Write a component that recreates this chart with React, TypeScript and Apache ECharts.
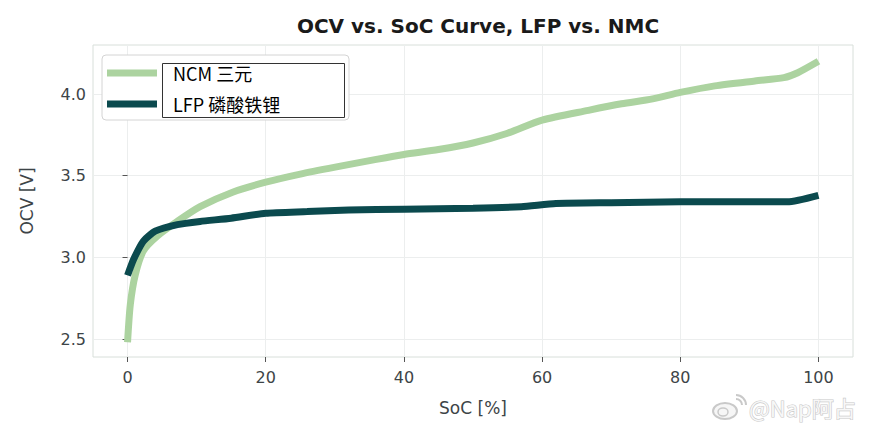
import React, { useEffect, useRef } from "react";
import * as echarts from "echarts";

const xTicks = [0, 20, 40, 60, 80, 100];
const yTicks = [2.5, 3.0, 3.5, 4.0];

const ncmSoc = [0, 0.4, 1.1, 2.3, 4.3, 7.2, 10.5, 15.3, 20, 25, 31, 36, 40, 45, 50, 55, 60, 66.7, 71.5, 76, 80, 85, 90.8, 95, 97, 100];
const ncmOcv = [2.48, 2.71, 2.89, 3.04, 3.13, 3.22, 3.31, 3.40, 3.46, 3.51, 3.56, 3.60, 3.63, 3.66, 3.70, 3.76, 3.84, 3.90, 3.94, 3.97, 4.01, 4.05, 4.08, 4.10, 4.13, 4.20];

const lfpSoc = [0, 0.9, 2.3, 4, 7.2, 10.5, 15, 20, 26, 32, 40, 50, 57, 62, 70, 80, 90, 95.5, 100];
const lfpOcv = [2.89, 2.99, 3.10, 3.16, 3.20, 3.22, 3.24, 3.27, 3.28, 3.29, 3.295, 3.30, 3.31, 3.33, 3.335, 3.34, 3.34, 3.34, 3.38];

const seriesNames = ["NCM 三元", "LFP 磷酸铁锂"];
const titleText = "OCV vs. SoC Curve, LFP vs. NMC";
const xName = "SoC [%]";
const yName = "OCV [V]";
const watermark = "@Nap阿占";

export default function App() {
  const ref = useRef<HTMLDivElement>(null);
  useEffect(() => {
    document.body.style.margin = "0";
    const chart = echarts.init(ref.current!, null, { renderer: "svg" });
    const font = "'DejaVu Sans', sans-serif";
    const textColor = "#3d4447";
    const wm = "#c9c9c9";
    chart.setOption({
      animation: false,
      backgroundColor: "#ffffff",
      title: {
        text: titleText,
        left: 473,
        textAlign: "center",
        top: 11,
        textStyle: { fontFamily: font, fontWeight: "bold", fontSize: 20, color: "#1a1a1a" },
      },
      grid: {
        left: 93,
        right: 18,
        top: 45,
        bottom: 78,
        show: true,
        borderColor: "#d8dfda",
        borderWidth: 1,
      },
      legend: {
        orient: "vertical",
        left: 102,
        top: 55,
        padding: [6, 6, 4, 5],
        itemGap: 7,
        itemWidth: 50,
        itemHeight: 7,
        icon: "rect",
        backgroundColor: "#ffffff",
        borderColor: "#d4d4d4",
        borderWidth: 1,
        borderRadius: 4,
        data: seriesNames,
        textStyle: {
          fontFamily: "'Noto Sans CJK SC', sans-serif",
          fontSize: 18,
          color: "#000000",
          lineHeight: 20,
          padding: [4, 0, 0, 11],
          width: 170,
        },
      },
      xAxis: {
        type: "value",
        min: -5,
        max: 105,
        name: xName,
        nameLocation: "middle",
        nameGap: 42,
        nameTextStyle: { fontFamily: font, fontSize: 17, color: textColor },
        axisLine: { show: false },
        axisTick: { show: true, length: 5, lineStyle: { color: "#555" }, customValues: xTicks },
        axisLabel: { fontFamily: font, fontSize: 16, color: textColor, margin: 12, customValues: xTicks },
        splitLine: { show: true, lineStyle: { color: "#eceeee", width: 1 } },
      },
      yAxis: {
        type: "value",
        min: 2.39,
        max: 4.3,
        name: yName,
        nameLocation: "middle",
        nameGap: 58,
        nameTextStyle: { fontFamily: font, fontSize: 17, color: textColor },
        axisLine: { show: false },
        axisTick: { show: true, length: 5, lineStyle: { color: "#555" }, customValues: yTicks },
        axisLabel: {
          fontFamily: font,
          fontSize: 16,
          color: textColor,
          margin: 7,
          customValues: yTicks,
          formatter: (v: number) => v.toFixed(1),
        },
        splitLine: { show: true, lineStyle: { color: "#eceeee", width: 1 } },
      },
      series: [
        {
          name: seriesNames[0],
          type: "line",
          data: ncmSoc.map((s, i) => [s, ncmOcv[i]]),
          showSymbol: false,
          smooth: 0.25,
          lineStyle: { color: "#acd3a0", width: 7, cap: "butt" },
          itemStyle: { color: "#acd3a0" },
        },
        {
          name: seriesNames[1],
          type: "line",
          data: lfpSoc.map((s, i) => [s, lfpOcv[i]]),
          showSymbol: false,
          smooth: 0.2,
          lineStyle: { color: "#0b4a4e", width: 7, cap: "butt" },
          itemStyle: { color: "#0b4a4e" },
        },
      ],
      graphic: [
        {
          type: "rect",
          shape: { x: 162.5, y: 63.5, width: 182, height: 54 },
          style: { fill: "none", stroke: "#333", lineWidth: 1 },
          z: 100,
        },
        {
          type: "ellipse",
          shape: { cx: 725, cy: 411, rx: 12, ry: 8 },
          style: { fill: "#f6f6f6", stroke: wm, lineWidth: 2 },
          z: 100,
        },
        {
          type: "ellipse",
          shape: { cx: 723, cy: 412, rx: 5, ry: 4 },
          style: { fill: "none", stroke: wm, lineWidth: 1.5 },
          z: 100,
        },
        {
          type: "arc",
          shape: { cx: 736, cy: 405, r: 6, startAngle: -Math.PI / 2, endAngle: 0 },
          style: { stroke: wm, lineWidth: 2, fill: "none" },
          z: 100,
        },
        {
          type: "arc",
          shape: { cx: 736, cy: 405, r: 10, startAngle: -Math.PI / 2, endAngle: 0 },
          style: { stroke: wm, lineWidth: 2, fill: "none" },
          z: 100,
        },
        {
          type: "text",
          x: 749,
          y: 396,
          style: {
            text: watermark,
            fontSize: 22,
            fontFamily: "'Noto Sans CJK SC', sans-serif",
            fill: "#f7f7f7",
            stroke: wm,
            lineWidth: 1.2,
          },
          z: 100,
        },
      ],
    });
    return () => chart.dispose();
  }, []);
  return <div ref={ref} style={{ width: 871, height: 435 }} />;
}
